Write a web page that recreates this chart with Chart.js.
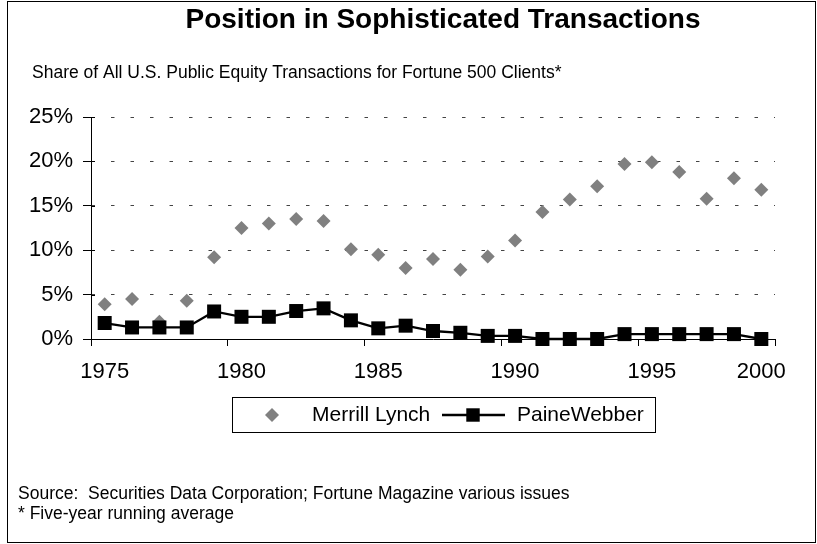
<!DOCTYPE html>
<html>
<head>
<meta charset="utf-8">
<script src="https://cdn.jsdelivr.net/npm/chart.js@4.4.0/dist/chart.umd.min.js"></script>
<style>
  html, body { margin: 0; padding: 0; background: #fff; }
  canvas { display: block; }
</style>
</head>
<body>
<canvas id="chart" width="817" height="544"></canvas>
<script>
const years = [1975, 1976, 1977, 1978, 1979, 1980, 1981, 1982, 1983, 1984, 1985, 1986, 1987,
  1988, 1989, 1990, 1991, 1992, 1993, 1994, 1995, 1996, 1997, 1998, 1999];
const merrillLynch = [3.9, 4.5, 1.95, 4.3, 9.2, 12.5, 13.0, 13.5, 13.3, 10.1, 9.5, 8.0, 9.0,
  7.8, 9.3, 11.1, 14.3, 15.7, 17.2, 19.7, 19.9, 18.8, 15.8, 18.1, 16.8];
const paineWebber = [1.8, 1.3, 1.3, 1.3, 3.1, 2.5, 2.5, 3.15, 3.45, 2.1, 1.2, 1.5, 0.9,
  0.7, 0.35, 0.35, 0, 0, 0, 0.55, 0.55, 0.55, 0.55, 0.55, 0];
const xTickLabels = ['1975', '1980', '1985', '1990', '1995', '2000'];
const yMax = 25;
const yStep = 5;
const seriesNames = ['Merrill Lynch', 'PaineWebber'];
const titleText = 'Position in Sophisticated Transactions';
const subtitleText = 'Share of All U.S. Public Equity Transactions for Fortune 500 Clients*';
const sourceText = 'Source:  Securities Data Corporation; Fortune Magazine various issues';
const footnoteText = '* Five-year running average';

const FONT = '"Liberation Sans", Arial, sans-serif';
const ML_GREY = '#808080';

// y ticks in the original cross the axis a little
const crossTicks = {
  id: 'crossTicks',
  afterDraw(chart) {
    const y = chart.scales.y;
    const ctx = chart.ctx;
    ctx.save();
    ctx.strokeStyle = '#000';
    ctx.lineWidth = 1;
    y.ticks.forEach(t => {
      const py = Math.round(y.getPixelForValue(t.value)) + 0.5;
      ctx.beginPath();
      ctx.moveTo(y.right, py);
      ctx.lineTo(y.right + 4, py);
      ctx.stroke();
    });
    ctx.restore();
  }
};

// title, notes, frame and the boxed legend are drawn by hand
const framePlugin = {
  id: 'frame',
  afterDraw(chart) {
    const ctx = chart.ctx;
    const pt = Chart.helpers.drawPoint;
    ctx.save();
    ctx.strokeStyle = '#000';
    ctx.lineWidth = 1;
    ctx.strokeRect(7.5, 1.5, 808, 541);

    ctx.fillStyle = '#000';
    ctx.textBaseline = 'middle';
    ctx.textAlign = 'center';
    ctx.font = 'bold 28px ' + FONT;
    ctx.fillText(titleText, 443, 20);

    ctx.textAlign = 'left';
    ctx.font = '17.5px ' + FONT;
    ctx.fillText(subtitleText, 32, 73);
    ctx.fillText(sourceText, 18, 494);
    ctx.fillText(footnoteText, 18, 514);

    // legend
    ctx.strokeRect(232.5, 397.5, 423, 35);
    const ly = 415;
    ctx.fillStyle = ML_GREY;
    pt(ctx, { pointStyle: 'rectRot', radius: 7, rotation: 0, borderWidth: 0 }, 272, ly);
    ctx.strokeStyle = '#000';
    ctx.lineWidth = 2.3;
    ctx.beginPath();
    ctx.moveTo(442, ly);
    ctx.lineTo(505, ly);
    ctx.stroke();
    ctx.fillStyle = '#000';
    pt(ctx, { pointStyle: 'rect', radius: 9.5, rotation: 0, borderWidth: 0 }, 473, ly);
    ctx.font = '21px ' + FONT;
    ctx.fillText(seriesNames[0], 312, ly);
    ctx.fillText(seriesNames[1], 517, ly);
    ctx.restore();
  }
};

new Chart(document.getElementById('chart'), {
  type: 'line',
  data: {
    labels: years.map(String),
    datasets: [
      {
        label: seriesNames[0],
        data: merrillLynch,
        showLine: false,
        pointStyle: 'rectRot',
        pointRadius: 7,
        pointBackgroundColor: ML_GREY,
        pointBorderColor: ML_GREY,
        pointBorderWidth: 0,
        borderColor: ML_GREY,
        backgroundColor: ML_GREY,
        clip: false,
        order: 1
      },
      {
        label: seriesNames[1],
        data: paineWebber,
        borderColor: '#000',
        borderWidth: 2.3,
        tension: 0,
        pointStyle: 'rect',
        pointRadius: 9.9,
        pointBackgroundColor: '#000',
        pointBorderColor: '#000',
        pointBorderWidth: 0,
        clip: false,
        order: 0
      }
    ]
  },
  options: {
    responsive: false,
    animation: false,
    events: [],
    layout: { padding: { left: 0, top: 117, right: 42, bottom: 0 } },
    plugins: {
      legend: { display: false },
      tooltip: { enabled: false },
      title: { display: false }
    },
    scales: {
      x: {
        type: 'category',
        offset: true,
        afterFit: (s) => { s.height = 205; },
        border: { display: true, color: '#000', width: 1 },
        grid: {
          offset: true,
          drawOnChartArea: false,
          drawTicks: true,
          tickLength: 7,
          tickWidth: 1,
          color: (c) => (c.type !== 'tick' || c.index % 5 === 0) ? '#000' : 'rgba(0,0,0,0)'
        },
        ticks: {
          autoSkip: false,
          maxRotation: 0,
          padding: 13,
          color: '#000',
          font: { family: FONT, size: 22 },
          callback: (v, i) => {
            if (i % 5 === 0) return xTickLabels[i / 5];
            if (i === years.length - 1) return xTickLabels[xTickLabels.length - 1];
            return '';
          }
        }
      },
      y: {
        min: 0,
        max: yMax,
        afterFit: (s) => { s.width = 91; },
        border: { display: true, color: '#000', width: 1, dash: [3.5, 16], dashOffset: 0.5 },
        grid: {
          drawTicks: true,
          tickLength: 8,
          tickColor: '#000',
          lineWidth: 1,
          color: (c) => c.index === 0 ? 'rgba(0,0,0,0)' : '#444'
        },
        ticks: {
          stepSize: yStep,
          padding: 10,
          color: '#000',
          font: { family: FONT, size: 22 },
          callback: (v) => v + '%'
        }
      }
    }
  },
  plugins: [framePlugin, crossTicks]
});
</script>
</body>
</html>
